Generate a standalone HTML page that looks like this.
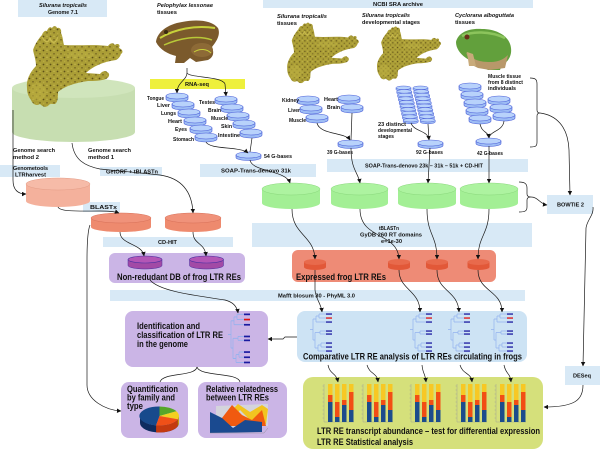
<!DOCTYPE html>
<html><head><meta charset="utf-8">
<style>
html,body{margin:0;padding:0;background:#fff;}
svg{display:block;}
text{font-family:"Liberation Sans",Arial,sans-serif;font-weight:bold;fill:#111;}
.s{font-size:5.8px;}
.i{font-style:italic;}
.b{font-size:9px;}
.ln{fill:none;stroke:#1a1a1a;stroke-width:0.7;}
</style></head><body>
<svg width="600" height="451" viewBox="0 0 600 451" xmlns="http://www.w3.org/2000/svg">
<defs>
<marker id="a" viewBox="0 0 6 6" refX="5.5" refY="3" markerWidth="4.5" markerHeight="4.5" orient="auto" markerUnits="userSpaceOnUse"><path d="M0,0 L6,3 L0,6z" fill="#111"/></marker>
<pattern id="sp" width="7" height="7" patternUnits="userSpaceOnUse"><rect width="7" height="7" fill="#ab9e36"/><circle cx="1.5" cy="1.5" r="0.9" fill="#5e5018"/><circle cx="5" cy="4.8" r="0.8" fill="#6e5f20"/><circle cx="5" cy="1.2" r="0.6" fill="#cfc258"/><circle cx="1.8" cy="5.2" r="0.5" fill="#c8ba50"/></pattern>
<g id="d"><path d="M0,3 v3 a11,3 0 0 0 22,0 v-3z" fill="#9dbcf4" stroke="#4a5ed8" stroke-width="0.6"/><ellipse cx="11" cy="3" rx="11" ry="3" fill="#b8d2fb" stroke="#4a5ed8" stroke-width="0.6"/></g>
<g id="dg"><path d="M0,3 v2.5 a12.5,3 0 0 0 25,0 v-2.5z" fill="#9dbcf4" stroke="#4a5ed8" stroke-width="0.6"/><ellipse cx="12.5" cy="3" rx="12.5" ry="3" fill="#b8d2fb" stroke="#4a5ed8" stroke-width="0.6"/></g>
<g id="ds"><path d="M0,1.8 v1.8 a7.5,1.8 0 0 0 15,0 v-1.8z" fill="#9dbcf4" stroke="#4a5ed8" stroke-width="0.5"/><ellipse cx="7.5" cy="1.8" rx="7.5" ry="1.8" fill="#b8d2fb" stroke="#4a5ed8" stroke-width="0.5"/></g>
<g id="xf">
<path d="M33,50 C35,44 39,38 42,35 C43,32 45,30 47,31 C48,28 50,26 52,28 C53,26 56,25 57,28 C59,27 62,29 61,33 C63,37 63,42 64,45 C80,46 95,44 108,46 C110,43 113,42 115,45 C117,43 121,44 119,48 C122,49 124,52 121,54 C120,57 118,59 116,60 C102,62 92,67 86,73 L100,74 C102,71 106,70 107,72 C110,73 110,77 106,79 C100,81 94,81 88,81 C75,83 65,86 58,92 C58,97 58,102 55,104 C52,104 50,103 48,106 C45,108 42,106 40,104 C37,106 33,105 31,100 C28,96 27,92 27,88 C26,80 30,72 36,66 C36,60 34,55 33,50Z" fill="url(#sp)"/>
<path d="M42,37 C45,42 48,44 50,38 C52,44 56,44 58,36" fill="none" stroke="#d4c658" stroke-width="1.2" opacity="0.7"/>
<ellipse cx="38" cy="92" rx="8" ry="9" fill="#bdb042" opacity="0.55"/>
<ellipse cx="80" cy="55" rx="14" ry="4" fill="#c4b648" opacity="0.35"/>
</g>
<g id="tr">
<path d="M0,16.5 H3 M3,6 V27 M3,6 H6 M6,3 V9 M6,3 H9 M9,1 V5 M9,1 H16 M9,5 H16 M6,9 H16 M3,27 H5 M5,19.5 V35 M5,19.5 H10 M10,18 V21 M10,18 H16 M10,21 H16 M5,35 H8 M8,32 V38 M8,32 H11 M11,30 V34 M11,30 H16 M11,34 H16 M8,38 H16" fill="none" stroke="#93b2ee" stroke-width="0.7"/>
<rect x="16" y="0.4" width="6" height="1.3" fill="#1a1aa0"/>
<rect x="16" y="4.4" width="6" height="1.3" fill="#e01010"/>
<rect x="16" y="8.4" width="6" height="1.3" fill="#1a1aa0"/>
<rect x="16" y="17.4" width="6" height="1.3" fill="#1a1aa0"/>
<rect x="16" y="20.4" width="6" height="1.3" fill="#1a1aa0"/>
<rect x="16" y="29.4" width="6" height="1.3" fill="#1a1aa0"/>
<rect x="16" y="33.4" width="6" height="1.3" fill="#1a1aa0"/>
<rect x="16" y="37.4" width="6" height="1.3" fill="#1a1aa0"/>
</g>
<g id="bg">
<path d="M0,0 V38 M-1.5,2 H0 M-1.5,6 H0 M-1.5,10 H0 M-1.5,14 H0 M-1.5,18 H0 M-1.5,22 H0 M-1.5,26 H0 M-1.5,30 H0 M-1.5,34 H0 M0,38 H30" stroke="#999" stroke-width="0.4"/>
<rect x="4" y="0" width="4.5" height="11" fill="#f7c824"/><rect x="4" y="11" width="4.5" height="7" fill="#f24e14"/><rect x="4" y="18" width="4.5" height="20" fill="#1c4c8c"/>
<rect x="11" y="0" width="4.5" height="18" fill="#f7c824"/><rect x="11" y="18" width="4.5" height="15" fill="#f24e14"/><rect x="11" y="33" width="4.5" height="5" fill="#1c4c8c"/>
<rect x="18" y="0" width="4.5" height="16" fill="#f7c824"/><rect x="18" y="16" width="4.5" height="5" fill="#f24e14"/><rect x="18" y="21" width="4.5" height="17" fill="#1c4c8c"/>
<rect x="25" y="0" width="4.5" height="8" fill="#f7c824"/><rect x="25" y="8" width="4.5" height="18" fill="#f24e14"/><rect x="25" y="26" width="4.5" height="12" fill="#1c4c8c"/>
</g>
</defs>

<rect width="600" height="451" fill="#fff"/>

<!-- big panels -->
<rect x="303" y="377" width="240" height="72" rx="10" fill="#d5e07b"/>
<rect x="297" y="311" width="230" height="51" rx="8" fill="#cde3f4"/>
<rect x="125" y="311" width="143" height="56" rx="8" fill="#cbb5e6"/>
<rect x="121" y="382" width="67" height="56" rx="8" fill="#cbb5e6"/>
<rect x="198" y="382" width="89" height="56" rx="8" fill="#cbb5e6"/>
<rect x="109" y="253" width="136" height="30" rx="6" fill="#cbb5e6"/>
<rect x="292" y="250" width="204" height="32" rx="6" fill="#ee8b76"/>

<!-- label boxes -->
<g fill="#d8e9f6">
<rect x="18" y="0" width="89" height="17"/>
<rect x="263" y="0" width="270" height="8"/>
<rect x="200" y="164" width="116" height="13"/>
<rect x="327" y="159" width="201" height="13"/>
<rect x="0" y="165" width="60" height="12"/>
<rect x="100" y="167" width="62" height="9"/>
<rect x="83" y="202" width="37" height="10"/>
<rect x="103" y="237" width="130" height="10"/>
<rect x="252" y="223" width="280" height="24"/>
<rect x="547" y="195" width="46" height="19"/>
<rect x="110" y="290" width="415" height="11"/>
<rect x="565" y="366" width="35" height="19"/>
</g>
<rect x="150" y="79" width="95" height="10" fill="#eef03c"/>

<!-- big green cylinder -->
<path d="M12,88 V132 A61.5,10 0 0 0 135,132 V88Z" fill="#c7deb1"/>
<ellipse cx="73.5" cy="88" rx="61.5" ry="10" fill="#d0e5bc"/>

<!-- pink & salmon cylinders -->
<path d="M26,184 V201 A32,6 0 0 0 90,201 V184Z" fill="#f4b19c"/>
<ellipse cx="58" cy="184" rx="32" ry="6" fill="#f6bba8" stroke="#e49c86" stroke-width="0.5"/>
<path d="M91,218 V227 A30,5 0 0 0 151,227 V218Z" fill="#ee8a6e"/>
<ellipse cx="121" cy="218" rx="30" ry="5" fill="#f0927a" stroke="#d87058" stroke-width="0.5"/>
<path d="M165,218 V227 A28,5 0 0 0 221,227 V218Z" fill="#ee8a6e"/>
<ellipse cx="193" cy="218" rx="28" ry="5" fill="#f0927a" stroke="#d87058" stroke-width="0.5"/>

<!-- purple cylinders -->
<path d="M128,259.5 V265.5 A17,3.5 0 0 0 162,265.5 V259.5Z" fill="#a24aa6" stroke="#4830a0" stroke-width="0.5"/>
<ellipse cx="145" cy="259.5" rx="17" ry="3.5" fill="#b356b6" stroke="#4830a0" stroke-width="0.6"/>
<path d="M189.5,259.5 V265.5 A17,3.5 0 0 0 223.5,265.5 V259.5Z" fill="#a24aa6" stroke="#4830a0" stroke-width="0.5"/>
<ellipse cx="206.5" cy="259.5" rx="17" ry="3.5" fill="#b356b6" stroke="#4830a0" stroke-width="0.6"/>

<!-- green cylinders -->
<g>
<path d="M262,189 V203 A29,6 0 0 0 320,203 V189Z" fill="#a3ef95"/>
<ellipse cx="291" cy="189" rx="29" ry="6" fill="#adf3a0" stroke="#8ad87c" stroke-width="0.5"/>
<path d="M331,189 V203 A28.5,6 0 0 0 388,203 V189Z" fill="#a3ef95"/>
<ellipse cx="359.5" cy="189" rx="28.5" ry="6" fill="#adf3a0" stroke="#8ad87c" stroke-width="0.5"/>
<path d="M398,189 V203 A29,6 0 0 0 456,203 V189Z" fill="#a3ef95"/>
<ellipse cx="427" cy="189" rx="29" ry="6" fill="#adf3a0" stroke="#8ad87c" stroke-width="0.5"/>
<path d="M460,189 V203 A29,6 0 0 0 518,203 V189Z" fill="#a3ef95"/>
<ellipse cx="489" cy="189" rx="29" ry="6" fill="#adf3a0" stroke="#8ad87c" stroke-width="0.5"/>
</g>

<!-- red small cylinders -->
<g>
<path d="M304,262 V267 A11,3 0 0 0 326,267 V262Z" fill="#e25838"/><ellipse cx="315" cy="262" rx="11" ry="3" fill="#e86a4c"/>
<path d="M388,262 V267 A11,3 0 0 0 410,267 V262Z" fill="#e25838"/><ellipse cx="399" cy="262" rx="11" ry="3" fill="#e86a4c"/>
<path d="M426,262 V267 A11,3 0 0 0 448,267 V262Z" fill="#e25838"/><ellipse cx="437" cy="262" rx="11" ry="3" fill="#e86a4c"/>
<path d="M467.5,262 V267 A11,3 0 0 0 489.5,267 V262Z" fill="#e25838"/><ellipse cx="478.5" cy="262" rx="11" ry="3" fill="#e86a4c"/>
</g>

<!-- frogs -->
<use href="#xf"/>
<use href="#xf" transform="translate(267,3) scale(0.75)"/>
<use href="#xf" transform="translate(359,9) scale(0.67)"/>
<!-- Pelophylax -->
<g>
<path d="M156,42 C157,32 168,24 182,22 C196,19 212,20 218,28 C221,35 216,42 212,47 C214,52 214,57 208,60 L196,62 L190,58 L184,63 L175,63 L176,56 C168,54 160,50 156,42Z" fill="#7b5a2c"/>
<ellipse cx="202" cy="50" rx="11" ry="7" fill="#8d6a36"/>
<path d="M160,38 C175,29 195,25 215,28" fill="none" stroke="#c8d23a" stroke-width="2"/>
<path d="M164,45 C180,38 198,35 212,40" fill="none" stroke="#b8c838" stroke-width="1.4"/>
<path d="M194,52 C200,48 207,49 211,53" fill="none" stroke="#c8d23a" stroke-width="1"/>
<circle cx="166" cy="32" r="2" fill="#3a2a10"/>
</g>
<!-- Cyclorana -->
<g>
<path d="M456,42 C458,33 468,28 482,29 C498,29 510,37 511,48 C512,56 508,62 502,65 L500,70 L488,70 C480,66 472,62 466,58 C460,54 456,48 456,42Z" fill="#62a03c"/>
<path d="M466,52 C472,60 480,62 490,62 C500,62 505,58 508,55 L505,68 L490,70 L478,68 L470,64Z" fill="#b8986a"/>
<path d="M467,52 L469,66 L476,66 L473,54Z" fill="#c8aa7a"/>
<path d="M462,36 C472,31 490,31 505,38" fill="none" stroke="#8cc45c" stroke-width="2.5"/>
<circle cx="467" cy="37" r="2.5" fill="#6a3018"/>
</g>

<!-- discs -->
<use href="#d" x="166" y="93"/><use href="#d" x="172" y="101"/><use href="#d" x="178" y="109"/><use href="#d" x="184" y="117"/><use href="#d" x="190" y="125"/><use href="#d" x="195" y="133"/>
<use href="#d" x="215" y="96"/><use href="#d" x="221" y="104"/><use href="#d" x="227" y="112"/><use href="#d" x="233" y="120"/><use href="#d" x="240" y="129"/>
<use href="#d" x="297" y="96"/><use href="#d" x="300" y="105"/><use href="#d" x="306" y="114"/>
<use href="#d" x="338" y="95"/><use href="#d" x="341" y="104"/>
<use href="#d" x="459" y="83"/><use href="#d" x="461" y="91"/><use href="#d" x="464" y="99"/><use href="#d" x="466" y="107"/><use href="#d" x="469" y="115"/>
<use href="#d" x="488" y="96"/><use href="#d" x="490" y="104"/><use href="#d" x="493" y="112"/>
<use href="#ds" x="396" y="86"/><use href="#ds" x="396.8" y="89.6"/><use href="#ds" x="397.6" y="93.2"/><use href="#ds" x="398.4" y="96.8"/><use href="#ds" x="399.2" y="100.4"/><use href="#ds" x="400" y="104"/><use href="#ds" x="400.8" y="107.6"/><use href="#ds" x="401.6" y="111.2"/><use href="#ds" x="402.4" y="114.8"/><use href="#ds" x="403.2" y="118.4"/>
<use href="#ds" x="413" y="86"/><use href="#ds" x="413.8" y="89.6"/><use href="#ds" x="414.6" y="93.2"/><use href="#ds" x="415.4" y="96.8"/><use href="#ds" x="416.2" y="100.4"/><use href="#ds" x="417" y="104"/><use href="#ds" x="417.8" y="107.6"/><use href="#ds" x="418.6" y="111.2"/><use href="#ds" x="419.4" y="114.8"/><use href="#ds" x="420.2" y="118.4"/>
<use href="#dg" x="236" y="152"/><use href="#dg" x="338" y="140"/><use href="#dg" x="418" y="140"/><use href="#dg" x="476" y="138"/>

<!-- trees -->
<use href="#tr" transform="translate(228,313) scale(1,1.3)"/>
<use href="#tr" x="310" y="313"/>
<use href="#tr" x="410" y="313"/>
<use href="#tr" x="448" y="313"/>
<use href="#tr" x="491" y="313"/>

<!-- bar groups -->
<use href="#bg" x="324" y="384"/>
<use href="#bg" x="363" y="384"/>
<use href="#bg" x="411" y="384"/>
<use href="#bg" x="457" y="384"/>
<use href="#bg" x="496" y="384"/>

<!-- pie chart -->
<path d="M140,416 v7 A19.5,9.5 0 0 0 179,423 v-7 A19.5,9.5 0 0 1 140,416Z" fill="#0e2c60"/>
<path d="M177.8,419.25 v7 A19.5,9.5 0 0 1 156.1,432.4 v-7 A19.5,9.5 0 0 0 177.8,419.25Z" fill="#c43a10"/>
<path d="M179,416 v7 A19.5,9.5 0 0 1 177.8,426.25 v-7 A19.5,9.5 0 0 0 179,416Z" fill="#c8a010"/>
<path d="M159.5,416 L156.1,425.4 A19.5,9.5 0 0 1 159.5,406.5Z" fill="#174a8c"/>
<path d="M159.5,416 L159.5,406.5 A19.5,9.5 0 0 1 176.4,411.25Z" fill="#56a62a"/>
<path d="M159.5,416 L176.4,411.25 A19.5,9.5 0 0 1 177.8,419.25Z" fill="#f2d020"/>
<path d="M159.5,416 L177.8,419.25 A19.5,9.5 0 0 1 156.1,425.4Z" fill="#f05018"/>

<!-- area chart -->
<polygon points="216,406 268,404 268,426 216,428" fill="#d4d4dc"/>
<polygon points="226,416 238,404 250,412 262,405 268,409 266,424 250,420 240,410 232,420" fill="#f2c420"/>
<polygon points="214,426 222,418 232,405 242,415 252,420 262,410 266,426" fill="#f05a10"/>
<polygon points="210,412 222,418 233,428 245,420 262,422 262,432 210,433" fill="#1a4a90"/>
<path d="M210,433 H264 L268,428" fill="none" stroke="#888" stroke-width="0.4"/>

<!-- connectors -->
<g class="ln">
<path d="M13,110 L13,180 C13,190 18,194 26,194" marker-end="url(#a)"/>
<path d="M72,143 C74,160 85,166 100,169 L160,175 C180,178 192,190 193,213" marker-end="url(#a)"/>
<path d="M58,207 C60,212 80,211 100,211 C110,211 116,212 119,213" marker-end="url(#a)"/>
<path d="M120,232 C120,245 142,243 144,256" marker-end="url(#a)"/>
<path d="M193,232 C193,245 205,242 206,256" marker-end="url(#a)"/>
<path d="M90,225 C88,230 87,240 87,260 L87,385 C87,400 105,410 121,411" marker-end="url(#a)"/>
<path d="M150,280 C160,292 200,296 225,300 C233,302 237,306 238,313" marker-end="url(#a)"/>
<path d="M197,367 C195,377 163,372 160,382"/>
<path d="M197,367 C200,377 238,372 240,382"/>
<path d="M297,337 L285,337 L283,339 L268,339" marker-end="url(#a)"/>
<path d="M250,160 C252,172 286,170 290,183" marker-end="url(#a)"/>
<path d="M187,68 L187,73 C187,80 177,82 177,93" marker-end="url(#a)"/>
<path d="M187,73 C190,78 222,76 225,84 L226,96" marker-end="url(#a)"/>
<path d="M206,142 C210,150 240,146 248,153" marker-end="url(#a)"/>
<path d="M252,138 L250,152"/>
<path d="M317,123 C320,135 345,132 350,140" marker-end="url(#a)"/>
<path d="M352,113 L351,140"/>
<path d="M411,123 C414,132 428,130 429,140" marker-end="url(#a)"/>
<path d="M428,124 L429,140"/>
<path d="M480,124 C482,133 488,131 489,138" marker-end="url(#a)"/>
<path d="M504,121 C503,131 490,131 489,138"/>
<path d="M351,148 C351,170 358,172 360,183" marker-end="url(#a)"/>
<path d="M430,148 L428,183" marker-end="url(#a)"/>
<path d="M489,146 L489,183" marker-end="url(#a)"/>
<path d="M292,209 C292,235 314,235 315,259" marker-end="url(#a)"/>
<path d="M360,209 C360,240 398,232 399,259" marker-end="url(#a)"/>
<path d="M427,209 C427,235 437,235 437,259" marker-end="url(#a)"/>
<path d="M489,209 C489,235 478,235 478,259" marker-end="url(#a)"/>
<path d="M315,270 L315,290 C316,300 321,303 322,312" marker-end="url(#a)"/>
<path d="M399,270 C399,290 420,290 420,312" marker-end="url(#a)"/>
<path d="M437,270 C437,292 458,290 459,312" marker-end="url(#a)"/>
<path d="M478,270 C478,292 502,290 502,312" marker-end="url(#a)"/>
<path d="M328,365 C330,375 336,372 338,382" marker-end="url(#a)"/>
<path d="M367,365 C370,375 377,372 378,382" marker-end="url(#a)"/>
<path d="M422,365 C423,375 425,372 426,382" marker-end="url(#a)"/>
<path d="M460,365 C463,375 471,372 472,382" marker-end="url(#a)"/>
<path d="M504,365 C506,375 510,372 511,382" marker-end="url(#a)"/>
<path d="M519,182 C525,182 527,184 527,188 L527,194 C527,196 528,197 531,197 C528,197 527,198 527,200 L527,207 C527,211 525,212 519,212"/>
<path d="M531,197 C538,197 540,204 547,205" marker-end="url(#a)"/>
<path d="M530,78 C536,78 537,80 537,84 L537,110 C537,112 538,113 540,113 C538,113 537,114 537,116 L537,142 C537,146 536,147 530,147"/>
<path d="M540,113 C555,115 568,125 569,150 L570,195" marker-end="url(#a)"/>
<path d="M593,207 C594,215 587,220 586,228 L583,366" marker-end="url(#a)"/>
<path d="M583,385 C583,400 575,407 544,407" marker-end="url(#a)"/>
</g>

<!-- text -->
<text class="s i" x="39" y="7" textLength="48" lengthAdjust="spacingAndGlyphs">Silurana tropicalis</text>
<text class="s" x="48" y="14" textLength="30" lengthAdjust="spacingAndGlyphs">Genome 7.1</text>
<text class="s i" x="157" y="7" textLength="56" lengthAdjust="spacingAndGlyphs">Pelophylax lessonae</text>
<text class="s" x="157" y="14" textLength="20" lengthAdjust="spacingAndGlyphs">tissues</text>
<text class="s" x="373" y="6" textLength="50" lengthAdjust="spacingAndGlyphs">NCBI SRA archive</text>
<text class="s i" x="277" y="18" textLength="50" lengthAdjust="spacingAndGlyphs">Silurana tropicalis</text>
<text class="s" x="277" y="25" textLength="20" lengthAdjust="spacingAndGlyphs">tissues</text>
<text class="s i" x="362" y="17" textLength="48" lengthAdjust="spacingAndGlyphs">Silurana tropicalis</text>
<text class="s" x="362" y="24" textLength="58" lengthAdjust="spacingAndGlyphs">developmental stages</text>
<text class="s i" x="455" y="17" textLength="59" lengthAdjust="spacingAndGlyphs">Cyclorana alboguttata</text>
<text class="s" x="455" y="24" textLength="20" lengthAdjust="spacingAndGlyphs">tissues</text>
<text class="s" x="488" y="78" textLength="33" lengthAdjust="spacingAndGlyphs">Muscle tissue</text>
<text class="s" x="488" y="84" textLength="35" lengthAdjust="spacingAndGlyphs">from 8 distinct</text>
<text class="s" x="488" y="90" textLength="28" lengthAdjust="spacingAndGlyphs">individuals</text>
<text class="s" x="185" y="86" textLength="24" lengthAdjust="spacingAndGlyphs">RNA-seq</text>
<text class="s" x="147" y="100" textLength="17" lengthAdjust="spacingAndGlyphs">Tongue</text>
<text class="s" x="157" y="107" textLength="13" lengthAdjust="spacingAndGlyphs">Liver</text>
<text class="s" x="161" y="115" textLength="15" lengthAdjust="spacingAndGlyphs">Lungs</text>
<text class="s" x="168" y="123" textLength="14" lengthAdjust="spacingAndGlyphs">Heart</text>
<text class="s" x="175" y="131" textLength="12" lengthAdjust="spacingAndGlyphs">Eyes</text>
<text class="s" x="173" y="141" textLength="21" lengthAdjust="spacingAndGlyphs">Stomach</text>
<text class="s" x="199" y="104" textLength="16" lengthAdjust="spacingAndGlyphs">Testes</text>
<text class="s" x="208" y="112" textLength="13" lengthAdjust="spacingAndGlyphs">Brain</text>
<text class="s" x="211" y="120" textLength="17" lengthAdjust="spacingAndGlyphs">Muscle</text>
<text class="s" x="221" y="128" textLength="11" lengthAdjust="spacingAndGlyphs">Skin</text>
<text class="s" x="218" y="137" textLength="22" lengthAdjust="spacingAndGlyphs">Intestine</text>
<text class="s" x="264" y="158" textLength="28" lengthAdjust="spacingAndGlyphs">54 G-bases</text>
<text class="s" x="221" y="172.5" textLength="70" lengthAdjust="spacingAndGlyphs">SOAP-Trans-denovo 31k</text>
<text class="s" x="13" y="152" textLength="42" lengthAdjust="spacingAndGlyphs">Genome search</text>
<text class="s" x="13" y="159" textLength="26" lengthAdjust="spacingAndGlyphs">method 2</text>
<text class="s" x="88" y="152" textLength="43" lengthAdjust="spacingAndGlyphs">Genome search</text>
<text class="s" x="88" y="159" textLength="26" lengthAdjust="spacingAndGlyphs">method 1</text>
<text class="s" x="13" y="170" textLength="35" lengthAdjust="spacingAndGlyphs">Genometools</text>
<text class="s" x="15" y="176.5" textLength="31" lengthAdjust="spacingAndGlyphs">LTRharvest</text>
<text class="s" x="106" y="173.5" textLength="52" lengthAdjust="spacingAndGlyphs">GetORF + tBLASTn</text>
<text class="s" x="90" y="209" textLength="27" lengthAdjust="spacingAndGlyphs">BLASTx</text>
<text class="s" x="158" y="244" textLength="19" lengthAdjust="spacingAndGlyphs">CD-HIT</text>
<text class="b" x="117" y="280" textLength="124" lengthAdjust="spacingAndGlyphs">Non-redudant DB of frog LTR REs</text>
<text class="b" x="296" y="280" textLength="90" lengthAdjust="spacingAndGlyphs">Expressed frog LTR REs</text>
<text class="s" x="327" y="154" textLength="26" lengthAdjust="spacingAndGlyphs">39 G-bases</text>
<text class="s" x="416" y="154" textLength="27" lengthAdjust="spacingAndGlyphs">92 G-bases</text>
<text class="s" x="477" y="155" textLength="26" lengthAdjust="spacingAndGlyphs">42 G-bases</text>
<text class="s" x="378" y="126" textLength="28" lengthAdjust="spacingAndGlyphs">23 distinct</text>
<text class="s" x="378" y="132" textLength="34" lengthAdjust="spacingAndGlyphs">developmental</text>
<text class="s" x="378" y="138" textLength="16" lengthAdjust="spacingAndGlyphs">stages</text>
<text class="s" x="282" y="102" textLength="17" lengthAdjust="spacingAndGlyphs">Kidney</text>
<text class="s" x="288" y="112" textLength="12" lengthAdjust="spacingAndGlyphs">Liver</text>
<text class="s" x="289" y="122" textLength="17" lengthAdjust="spacingAndGlyphs">Muscle</text>
<text class="s" x="324" y="101" textLength="14" lengthAdjust="spacingAndGlyphs">Heart</text>
<text class="s" x="327" y="109" textLength="13" lengthAdjust="spacingAndGlyphs">Brain</text>
<text class="s" x="365" y="167.5" textLength="118" lengthAdjust="spacingAndGlyphs">SOAP-Trans-denovo 23k – 31k – 51k + CD-HIT</text>
<text class="s" x="379" y="230" textLength="20" lengthAdjust="spacingAndGlyphs">tBLASTn</text>
<text class="s" x="360" y="236.5" textLength="62" lengthAdjust="spacingAndGlyphs">GyDB 260 RT domains</text>
<text class="s" x="381" y="243" textLength="21" lengthAdjust="spacingAndGlyphs">e=1e-30</text>
<text class="s" x="557" y="206.5" textLength="27" lengthAdjust="spacingAndGlyphs">BOWTIE 2</text>
<text class="s" x="278" y="297.5" textLength="77" lengthAdjust="spacingAndGlyphs">Mafft blosum 30 - PhyML 3.0</text>
<text class="b" x="137" y="329" textLength="63" lengthAdjust="spacingAndGlyphs">Identification and</text>
<text class="b" x="137" y="338" textLength="86" lengthAdjust="spacingAndGlyphs">classification of LTR RE</text>
<text class="b" x="137" y="347" textLength="51" lengthAdjust="spacingAndGlyphs">in the genome</text>
<text class="b" x="127" y="392" textLength="51" lengthAdjust="spacingAndGlyphs">Quantification</text>
<text class="b" x="127" y="400.5" textLength="48" lengthAdjust="spacingAndGlyphs">by family and</text>
<text class="b" x="127" y="409" textLength="16" lengthAdjust="spacingAndGlyphs">type</text>
<text class="b" x="206" y="392" textLength="72" lengthAdjust="spacingAndGlyphs">Relative relatedness</text>
<text class="b" x="206" y="400.5" textLength="63" lengthAdjust="spacingAndGlyphs">between LTR REs</text>
<text class="b" x="303" y="359.5" textLength="219" lengthAdjust="spacingAndGlyphs">Comparative LTR RE analysis of LTR REs circulating in frogs</text>
<text class="b" x="317" y="434" textLength="223" lengthAdjust="spacingAndGlyphs">LTR RE transcript abundance – test for differential expression</text>
<text class="b" x="317" y="445" textLength="96" lengthAdjust="spacingAndGlyphs">LTR RE Statistical analysis</text>
<text class="s" x="573" y="377.5" textLength="18" lengthAdjust="spacingAndGlyphs">DESeq</text>
</svg>
</body></html>
